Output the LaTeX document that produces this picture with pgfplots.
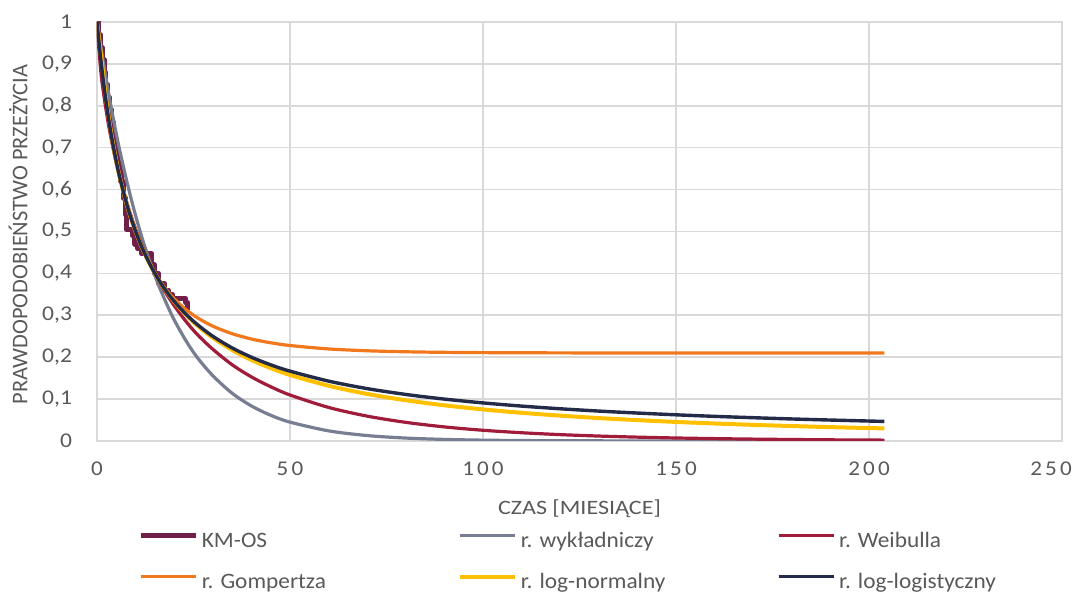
\documentclass[border=0pt]{standalone}
\usepackage{pgfplots}
\pgfplotsset{compat=1.18}
\usepackage{fontspec}
\setmainfont{Carlito}
\newfontfamily\xtickfont[LetterSpace=15,FakeStretch=1.1]{Carlito}
\newfontfamily\ytickfont[FakeStretch=1.12]{Carlito}
\newfontfamily\xlabfont[FakeStretch=1.18]{Carlito}
\newfontfamily\legfont[FakeStretch=1.06]{Carlito}
\definecolor{txt}{RGB}{89,89,89}
\definecolor{gridc}{RGB}{217,217,217}
\definecolor{cKM}{RGB}{112,32,72}
\definecolor{cExp}{RGB}{120,126,145}
\definecolor{cWei}{RGB}{160,28,58}
\definecolor{cGom}{RGB}{242,120,30}
\definecolor{cLN}{RGB}{255,192,0}
\definecolor{cLL}{RGB}{35,43,72}
\begin{document}
\begin{tikzpicture}
\path[use as bounding box] (-48.5pt,-75.5pt) rectangle (494pt,220.5pt);
\begin{axis}[
  scale only axis, width=482.5pt, height=209.5pt,
  xmin=0, xmax=250, ymin=0, ymax=1,
  xtick={0,50,100,150,200,250},
  ytick={0,0.1,0.2,0.3,0.4,0.5,0.6,0.7,0.8,0.9,1},
  yticklabels={0,{0,1},{0,2},{0,3},{0,4},{0,5},{0,6},{0,7},{0,8},{0,9},1},
  xticklabels={0,50,100,150,200,\hspace*{-11pt}250},
  major tick length=0pt,
  grid=major,
  major grid style={gridc, line width=0.8pt},
  axis line style={gridc, line width=0.8pt},
  ticklabel style={text=txt},
  xticklabel style={font=\xtickfont\fontsize{10.5}{12}\selectfont, anchor=north, yshift=-7pt},
  yticklabel style={font=\ytickfont\fontsize{10.5}{12}\selectfont, anchor=east, xshift=-9pt},
  xlabel={CZAS [MIESIĄCE]},
  ylabel={PRAWDOPODOBIEŃSTWO PRZEŻYCIA},
  label style={text=txt},
  xlabel style={font=\xlabfont\fontsize{10.2}{12}\selectfont, at={(axis description cs:0.5,0)}, anchor=center, yshift=-34pt},
  ylabel style={font=\fontsize{11.2}{12}\selectfont, at={(axis description cs:0,0.5)}, anchor=center, yshift=39.5pt, xshift=-1.5pt},
  legend columns=3,
  legend cell align=left,
  legend style={at={(0.0363,-0.21)}, anchor=north west, draw=none, fill=none,
    font=\legfont\fontsize{11}{12}\selectfont, text=txt,
    nodes={inner sep=0pt, text height=7pt, text depth=2pt},
    row sep=11.5pt, column sep=0pt},
  legend image code/.code={\draw[#1] (0pt,3.4pt) -- (27.5pt,3.4pt);},
  every axis plot/.append style={line join=round},
]
\addplot[cKM, line width=2.6pt, const plot, forget plot] coordinates {
(0,1.0) (0.3,0.97) (0.8,0.94) (1.3,0.91) (1.8,0.88) (2.3,0.85) (2.8,0.82) (3.3,0.79) (3.8,0.76) (4.3,0.72) (5.0,0.69) (5.6,0.66) (6.2,0.62) (6.8,0.58) (7.3,0.54) (7.6,0.505) (9.2,0.49) (9.8,0.47) (10.5,0.46) (11.5,0.447) (14.2,0.42) (15.0,0.40) (16.0,0.375) (17.5,0.36) (18.5,0.35) (19.5,0.34) (23.0,0.33) (23.5,0.318) (24.0,0.318)
};
\addplot[cExp, line width=1.6pt, smooth, forget plot] coordinates {
(0,1) (1,0.940) (2,0.884) (3,0.830) (4,0.780) (5,0.733) (6,0.689) (8,0.609) (10,0.538) (12,0.475) (14,0.420) (16,0.371) (18,0.328) (20,0.289) (23,0.240) (26,0.199) (30,0.156) (35,0.114) (40,0.0837) (45,0.0614) (50,0.0450) (60,0.0242) (70,0.0130) (80,0.0070) (90,0.0038) (100,0.0020) (110,0.0011) (120,0.0006) (140,0.0002) (160,0.00005) (180,0.00001) (204,0.0)
};
\addplot[cWei, line width=1.6pt, smooth, forget plot] coordinates {
(0,1) (1,0.881) (2,0.811) (3,0.754) (4,0.706) (5,0.6635) (6,0.6258) (8,0.5608) (10,0.506) (12,0.459) (14,0.419) (16,0.383) (18,0.351) (20,0.323) (23,0.286) (26,0.254) (30,0.219) (35,0.182) (40,0.153) (45,0.1295) (50,0.1098) (60,0.0801) (70,0.0593) (80,0.0445) (90,0.0336) (100,0.0256) (110,0.0197) (120,0.0152) (130,0.0118) (140,0.0092) (150,0.0072) (160,0.0057) (170,0.0045) (180,0.0036) (190,0.0028) (204,0.0021)
};
\addplot[cGom, line width=1.6pt, smooth, forget plot] coordinates {
(0,1) (1,0.9146) (2,0.8408) (3,0.7765) (4,0.7206) (5,0.6715) (6,0.6283) (8,0.5563) (10,0.4992) (12,0.4533) (14,0.4162) (16,0.3857) (18,0.3605) (20,0.3395) (23,0.3140) (26,0.2942) (30,0.2741) (35,0.2561) (40,0.2434) (45,0.2344) (50,0.2279) (60,0.2197) (70,0.2153) (80,0.2129) (90,0.2116) (100,0.2109) (120,0.2103) (150,0.2100) (204,0.2100)
};
\addplot[cLN, line width=2.0pt, smooth, forget plot] coordinates {
(0,1) (1,0.9245) (2,0.842) (3,0.7736) (4,0.716) (5,0.6672) (6,0.6249) (8,0.5552) (10,0.4998) (12,0.4546) (14,0.4167) (16,0.3845) (18,0.3568) (20,0.3326) (23,0.3015) (26,0.2755) (30,0.2465) (35,0.2172) (40,0.1935) (45,0.1740) (50,0.1576) (60,0.1318) (70,0.1123) (80,0.0972) (90,0.0852) (100,0.0754) (110,0.0673) (120,0.0605) (130,0.0547) (140,0.0498) (150,0.0455) (160,0.0418) (170,0.0385) (180,0.0357) (190,0.0331) (204,0.0300)
};
\addplot[cLL, line width=1.7pt, smooth, forget plot] coordinates {
(0,1) (1,0.9091) (2,0.8333) (3,0.7692) (4,0.7143) (5,0.6667) (6,0.625) (8,0.5556) (10,0.5) (12,0.4545) (14,0.4167) (16,0.3846) (18,0.3571) (20,0.3333) (23,0.3030) (26,0.2778) (30,0.25) (35,0.2222) (40,0.2) (45,0.1818) (50,0.1667) (60,0.1429) (70,0.125) (80,0.1111) (90,0.1) (100,0.0909) (110,0.0833) (120,0.0769) (130,0.0714) (140,0.0667) (150,0.0625) (160,0.0588) (170,0.0556) (180,0.0526) (190,0.05) (204,0.0467)
};
\addlegendimage{cKM, line width=2.2pt}
\addlegendentry{\makebox[130pt][l]{\hspace{2pt}KM-OS}}
\addlegendimage{cExp, line width=1.6pt}
\addlegendentry{\makebox[130pt][l]{\hspace{2pt}r. wykładniczy}}
\addlegendimage{cWei, line width=1.6pt}
\addlegendentry{\hspace{2pt}r. Weibulla}
\addlegendimage{cGom, line width=1.6pt}
\addlegendentry{\makebox[130pt][l]{\hspace{2pt}r. Gompertza}}
\addlegendimage{cLN, line width=2.0pt}
\addlegendentry{\makebox[130pt][l]{\hspace{2pt}r. log-normalny}}
\addlegendimage{cLL, line width=1.7pt}
\addlegendentry{\hspace{2pt}r. log-logistyczny}
\end{axis}
\end{tikzpicture}
\end{document}
